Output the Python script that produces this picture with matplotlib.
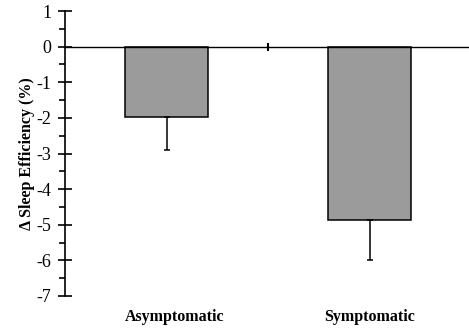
import numpy as np
import matplotlib
matplotlib.use('Agg')
import matplotlib.pyplot as plt
from matplotlib.ticker import MultipleLocator

plt.rc('font', family='Liberation Serif', size=11)
plt.rcParams['axes.unicode_minus'] = False

groups = ['Asymptomatic', 'Symptomatic']
delta_se = [-1.98, -4.87]
se_err = [0.93, 1.11]

fig = plt.figure(figsize=(4.69, 3.30), dpi=100)
ax = fig.add_axes([65 / 469, 34 / 330, 406 / 469, 285 / 330])

x = np.arange(len(groups)) + 0.5
ax.bar(x, delta_se, width=0.41, color='#9b9b9b', edgecolor='black', linewidth=1.1, zorder=2)
# only the lower half of the error bar is drawn
ax.errorbar(x, delta_se, yerr=[se_err, np.zeros(len(se_err))], fmt='none',
            ecolor='black', elinewidth=1.1, capsize=2.5, capthick=1.1, zorder=3)

ax.set_xlim(0, len(groups))
ax.set_ylim(-7, 1)

ax.spines['top'].set_visible(False)
ax.spines['right'].set_visible(False)
ax.spines['bottom'].set_position(('data', 0))
ax.spines['bottom'].set_linewidth(1.0)
ax.spines['left'].set_linewidth(1.2)

ax.set_xticks(np.arange(1, len(groups)))
ax.set_xticklabels([])
ax.tick_params(axis='x', direction='inout', length=6, width=1.5)

ax.yaxis.set_major_locator(MultipleLocator(1))
ax.yaxis.set_minor_locator(MultipleLocator(0.5))
ax.tick_params(axis='y', which='major', direction='inout', length=10, width=1.2, pad=5, labelsize=13)
ax.tick_params(axis='y', which='minor', direction='out', length=4, width=1.2)

for xi, name, dx in zip(x, groups, [0.04, 0.0]):
    ax.text(xi + dx, -0.075, name, transform=ax.get_xaxis_transform(),
            ha='center', va='center', fontsize=11.5, fontweight='bold')

ax.set_ylabel('\u0394 Sleep Efficiency (%)', fontsize=11.5, fontweight='bold', labelpad=1)

fig.savefig('out.png', dpi=100)
